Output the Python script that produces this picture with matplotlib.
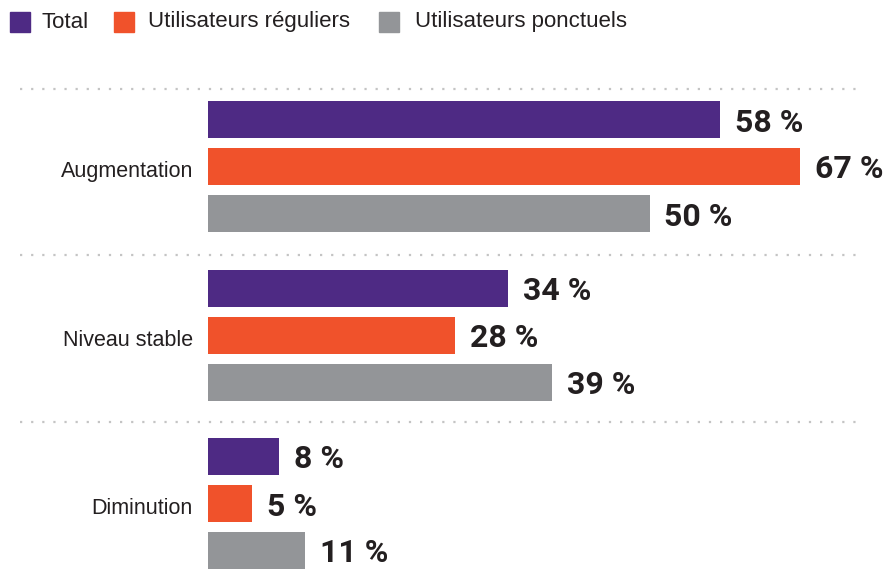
import numpy as np
import matplotlib
matplotlib.use("Agg")
import matplotlib.pyplot as plt
from matplotlib.patches import Rectangle

categories = ["Augmentation", "Niveau stable", "Diminution"]
series = ["Total", "Utilisateurs réguliers", "Utilisateurs ponctuels"]
total = [58, 34, 8]
reguliers = [67, 28, 5]
ponctuels = [50, 39, 11]
values = [total, reguliers, ponctuels]
colors = ["#4e2a84", "#f0522b", "#939598"]
txt = "#231f20"

W, H = 884, 582
fig = plt.figure(figsize=(W / 100, H / 100), dpi=100)
ax = fig.add_axes([0, 0, 1, 1])

# pixel-ish layout: x scale 8.83 px per %, bars begin at 208 px
s = 8.83
x0 = 208
ax.set_xlim(-x0 / s, (W - x0) / s)
ax.set_ylim(H, 0)
ax.axis("off")

group_gap = 168.5
step = 47
bar_h = 37
first_center = 166.5

for g, cat in enumerate(categories):
    gc = first_center + g * group_gap
    for k in range(3):
        yc = gc + (k - 1) * step
        v = values[k][g]
        ax.barh(yc, v, height=bar_h, color=colors[k], edgecolor="none")
        ax.text(v + 15 / s, yc + 3, f"{v} %", va="center", ha="left",
                fontsize=23, fontweight="bold", family="Roboto", color=txt)
    ax.text((193 - x0) / s, gc + 5, cat, va="center", ha="right",
            fontsize=15.5, family="Liberation Sans", color=txt)
    # dotted separator above each group
    ly = gc - 78 - 2 * g
    ax.plot([(20 - x0) / s, (862 - x0) / s], [ly, ly],
            linestyle=(0, (1, 4)), color="#c4c4c4", linewidth=1.6)

# legend
sq_x = [10, 114, 379]
lab_x = [41, 148, 415]
for k, name in enumerate(series):
    fig.add_artist(Rectangle((sq_x[k] / W, 1 - 32 / H), 20 / W, 20 / H,
                             transform=fig.transFigure, color=colors[k]))
    fig.text(lab_x[k] / W, 1 - 22 / H, name, va="center", ha="left",
             fontsize=16, family="Liberation Sans", color=txt)

fig.savefig("out.png", dpi=100)
